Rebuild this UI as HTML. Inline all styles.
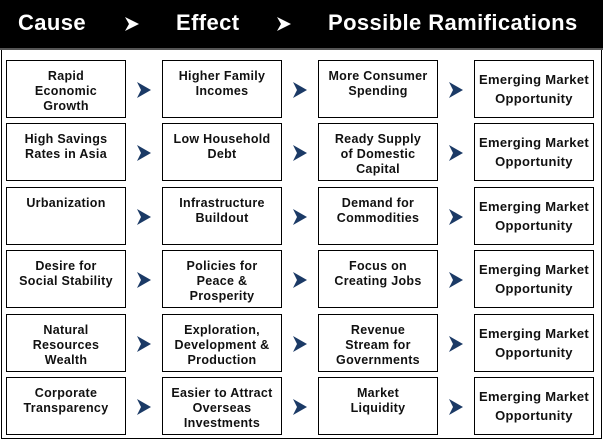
<!DOCTYPE html>
<html><head><style>
body{margin:0;width:603px;height:442px;background:#fff;position:relative;font-family:"Liberation Sans",Arial,sans-serif;overflow:hidden}
.frame{position:absolute;left:1px;top:0;width:599px;height:438px;border:1px solid #000;border-top:none}
.hdr{position:absolute;left:0;top:0;width:603px;height:48px;background:#000;border-bottom:2px solid #555}
.h{position:absolute;top:10px;color:#fff;font-weight:bold;font-size:22px;letter-spacing:0.4px}
.ha{position:absolute;top:17px}
.b{position:absolute;width:118px;height:56px;border:1px solid #000;background:#fff;text-align:center;font-weight:bold;font-size:12.5px;line-height:15px;color:#111;letter-spacing:0.3px;box-sizing:content-box}
.t{padding-top:8px}
.c4{display:flex;align-items:center;justify-content:center;line-height:19px;font-size:13px}
.ar{position:absolute}
</style></head><body>
<div class="frame"></div>
<div class="hdr"></div>
<div class="h" style="left:18px">Cause</div>
<svg class="ha" style="left:125px" width="14" height="14"><polygon points="0,0 14,7 0,14 4,7" fill="#fff"/></svg>
<div class="h" style="left:176px">Effect</div>
<svg class="ha" style="left:277px" width="14" height="14"><polygon points="0,0 14,7 0,14 4,7" fill="#fff"/></svg>
<div class="h" style="left:328px">Possible Ramifications</div>

<div id="g"></div>
<script>
var rows=[
["Rapid<br>Economic<br>Growth","Higher Family<br>Incomes","More Consumer<br>Spending"],
["High Savings<br>Rates in Asia","Low Household<br>Debt","Ready Supply<br>of Domestic<br>Capital"],
["Urbanization","Infrastructure<br>Buildout","Demand for<br>Commodities"],
["Desire for<br>Social Stability","Policies for<br>Peace &amp;<br>Prosperity","Focus on<br>Creating Jobs"],
["Natural<br>Resources<br>Wealth","Exploration,<br>Development &amp;<br>Production","Revenue<br>Stream for<br>Governments"],
["Corporate<br>Transparency","Easier to Attract<br>Overseas<br>Investments","Market<br>Liquidity"]];
var ys=[60,123,187,250,314,377],xs=[6,162,318,474],h="";
for(var r=0;r<6;r++){for(var c=0;c<4;c++){
var y=ys[r];
if(c<3)h+='<div class="b t" style="left:'+xs[c]+'px;top:'+y+'px;height:48px">'+rows[r][c]+'</div>';
else h+='<div class="b c4" style="left:'+xs[c]+'px;top:'+y+'px">Emerging Market<br>Opportunity</div>';
if(c<3)h+='<svg class="ar" style="left:'+(xs[c]+131)+'px;top:'+(y+22)+'px" width="14" height="16"><polygon points="0,0 14,8 0,16 4,8" fill="#1b3a66"/></svg>';
}}
document.getElementById("g").innerHTML=h;
</script>
</body></html>
